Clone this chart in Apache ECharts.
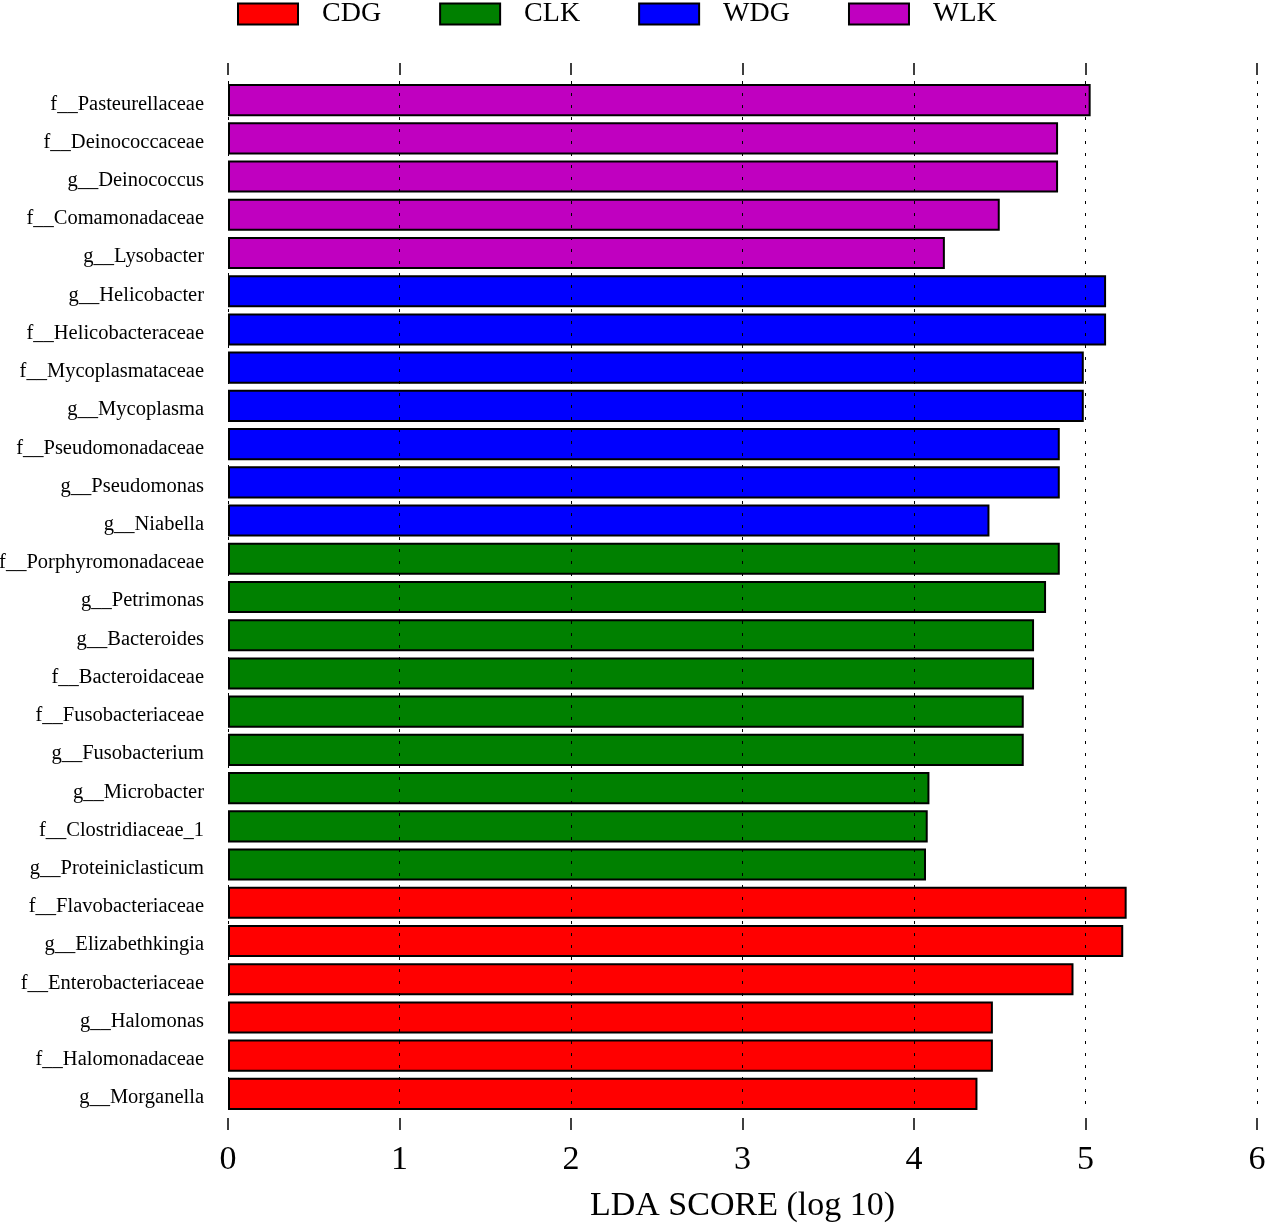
<!DOCTYPE html>
<html>
<head>
<meta charset="utf-8">
<script src="https://cdn.jsdelivr.net/npm/echarts@6/dist/echarts.min.js"></script>
<style>
  html, body { margin: 0; padding: 0; background: #fff; }
  #chart { width: 1267px; height: 1227px; }
</style>
</head>
<body>
<div id="chart"></div>
<script>
// taxa from top to bottom
var taxa = [
  'f__Pasteurellaceae', 'f__Deinococcaceae', 'g__Deinococcus', 'f__Comamonadaceae', 'g__Lysobacter',
  'g__Helicobacter', 'f__Helicobacteraceae', 'f__Mycoplasmataceae', 'g__Mycoplasma',
  'f__Pseudomonadaceae', 'g__Pseudomonas', 'g__Niabella',
  'f__Porphyromonadaceae', 'g__Petrimonas', 'g__Bacteroides', 'f__Bacteroidaceae',
  'f__Fusobacteriaceae', 'g__Fusobacterium', 'g__Microbacter', 'f__Clostridiaceae_1', 'g__Proteiniclasticum',
  'f__Flavobacteriaceae', 'g__Elizabethkingia', 'f__Enterobacteriaceae', 'g__Halomonas',
  'f__Halomonadaceae', 'g__Morganella'
]
// LDA score for each taxon, same order
var ldaScore = [
  5.03, 4.84, 4.84, 4.50, 4.18,
  5.12, 5.12, 4.99, 4.99,
  4.85, 4.85, 4.44,
  4.85, 4.77, 4.70, 4.70,
  4.64, 4.64, 4.09, 4.08, 4.07,
  5.24, 5.22, 4.93, 4.46,
  4.46, 4.37
]
// which group each taxon is enriched in
var taxonGroup = [
  'WLK', 'WLK', 'WLK', 'WLK', 'WLK',
  'WDG', 'WDG', 'WDG', 'WDG',
  'WDG', 'WDG', 'WDG',
  'CLK', 'CLK', 'CLK', 'CLK',
  'CLK', 'CLK', 'CLK', 'CLK', 'CLK',
  'CDG', 'CDG', 'CDG', 'CDG',
  'CDG', 'CDG'
]
var groups = ['CDG', 'CLK', 'WDG', 'WLK']
var groupColors = ['#ff0000', '#008000', '#0000ff', '#c000c0']
var xTicks = [0, 1, 2, 3, 4, 5, 6]

var font = "'Liberation Serif', 'Times New Roman', serif"

var series = groups.map(function (g, i) {
  return {
    name: g,
    type: 'bar',
    stack: 'lda',
    barCategoryGap: '16%',
    itemStyle: { color: groupColors[i], borderColor: '#000', borderWidth: 2 },
    data: ldaScore.map(function (v, k) { return taxonGroup[k] === g ? v : null })
  }
})

var chart = echarts.init(document.getElementById('chart'))
chart.setOption({
  animation: false,
  textStyle: { fontFamily: font },
  legend: {
    data: groups,
    icon: 'rect',
    left: 232,
    top: -5,
    itemWidth: 60,
    itemHeight: 21,
    itemGap: 58,
    textStyle: { fontFamily: font, fontSize: 28, color: '#000', padding: [0, 0, 0, 19] }
  },
  grid: { left: 228, right: 10, top: 81, bottom: 114, containLabel: false, outerBoundsMode: 'none' },
  xAxis: [{
    type: 'value',
    position: 'bottom',
    z: 5,
    min: xTicks[0],
    max: xTicks[xTicks.length - 1],
    interval: 1,
    offset: 5,
    name: 'LDA SCORE (log 10)',
    nameLocation: 'middle',
    nameGap: 71,
    nameTextStyle: { fontFamily: font, fontSize: 34, color: '#000' },
    axisLine: { show: false },
    axisTick: { show: true, length: 12, lineStyle: { color: '#000', width: 1.5 } },
    axisLabel: { fontFamily: font, fontSize: 34, color: '#000', margin: 25 },
    splitLine: { show: true, lineStyle: { color: '#000', width: 1, type: [3, 9] } }
  }, {
    type: 'value',
    position: 'top',
    min: xTicks[0],
    max: xTicks[xTicks.length - 1],
    interval: 1,
    offset: 6,
    axisLine: { show: false },
    axisTick: { show: true, length: 12, lineStyle: { color: '#000', width: 1.5 } },
    axisLabel: { show: false },
    splitLine: { show: false }
  }],
  yAxis: {
    type: 'category',
    data: taxa,
    inverse: true,
    axisLine: { show: false },
    axisTick: { show: false },
    axisLabel: {
      fontFamily: font, fontSize: 20.5, color: '#000', margin: 24,
      verticalAlign: 'top', lineHeight: 8
    }
  },
  series: series
})
</script>
</body>
</html>
